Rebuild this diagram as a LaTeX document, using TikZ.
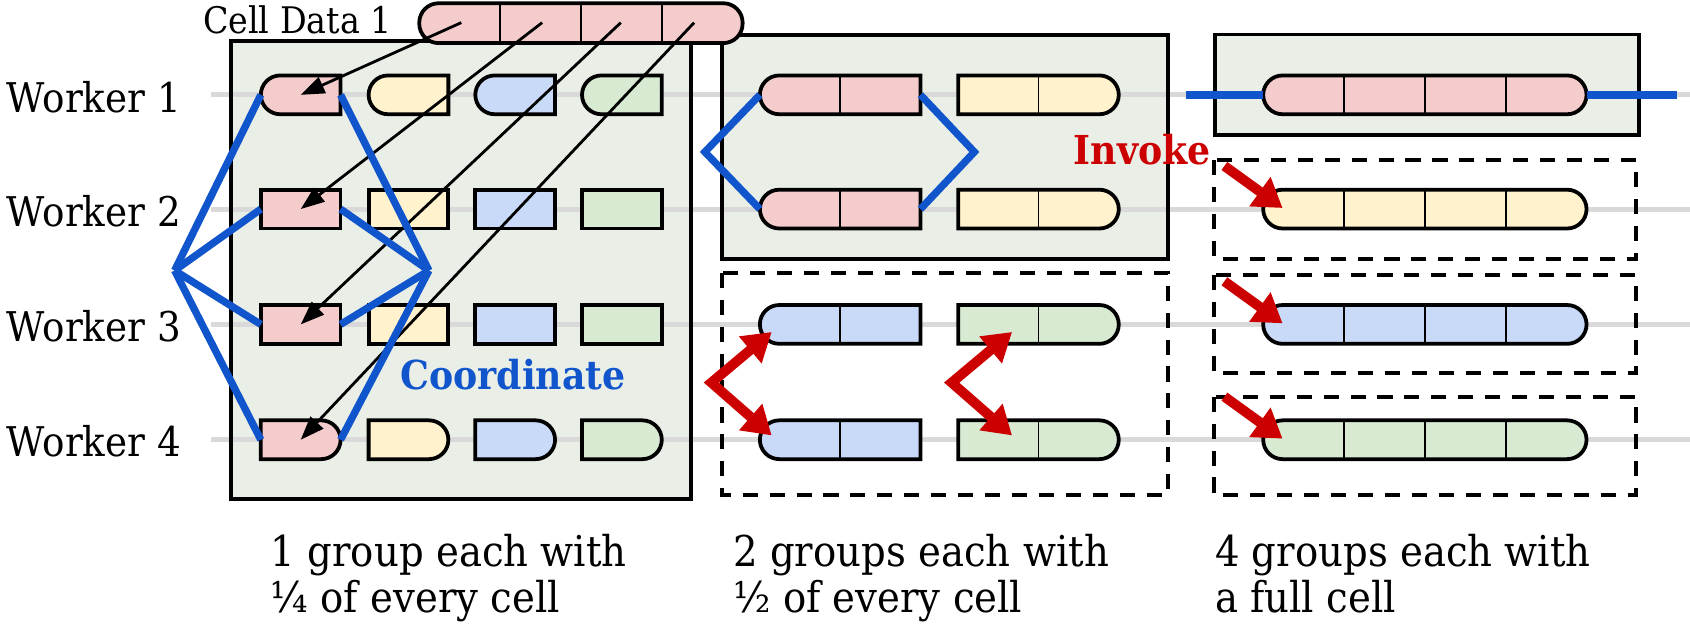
\documentclass[tikz,border=0pt]{standalone}
\usepackage{fontspec}
\setmainfont{DejaVu Serif}[FakeStretch=0.91]
\usetikzlibrary{arrows.meta,calc}
\definecolor{cpink}{HTML}{F4CCCC}
\definecolor{cyel}{HTML}{FFF2CC}
\definecolor{cblue}{HTML}{C9DAF8}
\definecolor{cgreen}{HTML}{D9EAD3}
\definecolor{panelfill}{HTML}{E9EEE6}
\definecolor{lineblue}{HTML}{1155CC}
\definecolor{arrred}{HTML}{CC0000}
\definecolor{rowgray}{HTML}{D9D9D9}
\tikzset{
 cellanchor/.style={inner sep=0pt, outer sep=0pt, minimum height=18pt},
 cellS/.style={cellanchor, minimum width=37pt},
 cellH/.style={cellanchor, minimum width=74.5pt},
 cellF/.style={cellanchor, minimum width=150pt},
 cellline/.style={draw=black, line width=1.75pt},
 divider/.style={draw=black, line width=0.8pt},
 rowline/.style={draw=rowgray, line width=2.3pt},
 panelbox/.style={draw=black, line width=1.75pt},
 dashbox/.style={draw=black, line width=1.75pt, dash pattern=on 7pt off 5.5pt},
 coordline/.style={draw=lineblue, line width=3.4pt},
 dataarrow/.style={draw=black, line width=1.3pt, -{Triangle[length=11pt,width=8pt]}},
 invarrow/.style={draw=arrred, line width=4.6pt, -{Triangle[length=13pt,width=16pt]}},
 exarrow/.style={draw=arrred, line width=4.6pt, {Triangle[length=13pt,width=15.5pt]}-{Triangle[length=13pt,width=15.5pt]}},
 wtext/.style={inner sep=0pt, anchor=base west, font=\fontsize{19pt}{22pt}\selectfont},
 cdtext/.style={inner sep=0pt, anchor=base west, font=\fontsize{17pt}{20pt}\selectfont},
 captext/.style={inner sep=0pt, anchor=base west, font=\fontsize{19.7pt}{23pt}\selectfont},
 bluetext/.style={inner sep=0pt, anchor=base, text=lineblue, font=\fontsize{18.5pt}{22pt}\selectfont\bfseries},
 redtext/.style={inner sep=0pt, anchor=base west, text=arrred, font=\fontsize{18.5pt}{22pt}\selectfont\bfseries},
}
\newcommand\mkpillL[2]{\draw[cellline,fill=#2] (#1.north east) -- ([xshift=9pt]#1.north west) arc[start angle=90,end angle=270,radius=9pt] -- (#1.south east) -- cycle;}
\newcommand\mkpillR[2]{\draw[cellline,fill=#2] (#1.north west) -- ([xshift=-9pt]#1.north east) arc[start angle=90,end angle=-90,radius=9pt] -- (#1.south west) -- cycle;}
\newcommand\mkpillB[2]{\draw[cellline,fill=#2,rounded corners=9pt] (#1.north west) rectangle (#1.south east);}
\newcommand\mkrect[2]{\draw[cellline,fill=#2] (#1.north west) rectangle (#1.south east);}
\newcommand\mkdivH[1]{\draw[divider] (#1.north) -- (#1.south);}
\newcommand\mkdivQ[1]{\foreach \q in {0.25,0.5,0.75}{\draw[divider] ($(#1.north west)!\q!(#1.north east)$) -- ($(#1.south west)!\q!(#1.south east)$);}}
\begin{document}
\begin{tikzpicture}[x=0.5pt,y=-0.5pt]
\useasboundingbox (0,0) rectangle (1568,583);
% panel corners
\coordinate (P1a) at (214,38);   \coordinate (P1b) at (641,463);
\coordinate (P2a) at (670,32.5); \coordinate (P2b) at (1084,240);
\coordinate (D2a) at (670,253);  \coordinate (D2b) at (1084,459);
\coordinate (P3a) at (1127,32);  \coordinate (P3b) at (1521,125);
\coordinate (D3a) at (1126,148.5); \coordinate (D3b) at (1518,240);
\coordinate (D4a) at (1126,255); \coordinate (D4b) at (1518,346);
\coordinate (D5a) at (1126,368); \coordinate (D5b) at (1518,459);
% fills
\fill[panelfill] (P1a) rectangle (P1b);
\fill[panelfill] (P2a) rectangle (P2b);
\fill[panelfill] (P3a) rectangle (P3b);
% worker row lines
\foreach \r/\y in {1/88,2/194,3/301,4/408}{
  \coordinate (gs\r) at (196,\y); \coordinate (ge\r) at (1568,\y);
  \draw[rowline] (gs\r) -- (ge\r);
}
% borders
\draw[panelbox] (P1a) rectangle (P1b);
\draw[panelbox] (P2a) rectangle (P2b);
\draw[panelbox] (P3a) rectangle (P3b);
\draw[dashbox] (D2a) rectangle (D2b);
\draw[dashbox] (D3a) rectangle (D3b);
\draw[dashbox] (D4a) rectangle (D4b);
\draw[dashbox] (D5a) rectangle (D5b);
% panel 1 cells
\foreach \c/\x in {1/279,2/379,3/478,4/577}{
  \node[cellS] (a1\c) at (\x,88) {};
  \node[cellS] (a2\c) at (\x,194) {};
  \node[cellS] (a3\c) at (\x,301) {};
  \node[cellS] (a4\c) at (\x,408) {};
}
\mkpillL{a11}{cpink}\mkpillL{a12}{cyel}\mkpillL{a13}{cblue}\mkpillL{a14}{cgreen}
\mkrect{a21}{cpink}\mkrect{a22}{cyel}\mkrect{a23}{cblue}\mkrect{a24}{cgreen}
\mkrect{a31}{cpink}\mkrect{a32}{cyel}\mkrect{a33}{cblue}\mkrect{a34}{cgreen}
\mkpillR{a41}{cpink}\mkpillR{a42}{cyel}\mkpillR{a43}{cblue}\mkpillR{a44}{cgreen}
% panel 2 cells
\foreach \r/\y in {1/88,2/194,3/301,4/408}{
  \node[cellH] (b\r l) at (779.5,\y) {};
  \node[cellH] (b\r r) at (963.5,\y) {};
}
\mkpillL{b1l}{cpink}\mkpillR{b1r}{cyel}
\mkpillL{b2l}{cpink}\mkpillR{b2r}{cyel}
\mkpillL{b3l}{cblue}\mkpillR{b3r}{cgreen}
\mkpillL{b4l}{cblue}\mkpillR{b4r}{cgreen}
\foreach \n in {b1l,b1r,b2l,b2r,b3l,b3r,b4l,b4r}{\mkdivH{\n}}
% panel 3 cells
\node[cellF] (f1) at (1322,88) {};
\node[cellF] (f2) at (1322,194) {};
\node[cellF] (f3) at (1322,301) {};
\node[cellF] (f4) at (1322,408) {};
\mkpillB{f1}{cpink}\mkpillB{f2}{cyel}\mkpillB{f3}{cblue}\mkpillB{f4}{cgreen}
\mkdivQ{f1}\mkdivQ{f2}\mkdivQ{f3}\mkdivQ{f4}
% cell data
\node[cellF, minimum height=18.5pt] (cd) at (539,21.5) {};
\mkpillB{cd}{cpink}\mkdivQ{cd}
% data arrows
\coordinate (s1) at (428,21); \coordinate (s2) at (503,21);
\coordinate (s3) at (576,21); \coordinate (s4) at (644,21);
\draw[dataarrow] (s1) -- (a11.center);
\draw[dataarrow] (s2) -- (a21.center);
\draw[dataarrow] (s3) -- (a31.center);
\draw[dataarrow] (s4) -- (a41.center);
% coordinate lines panel 1
\coordinate (hl) at (162,251); \coordinate (hr) at (398,251);
\foreach \r in {1,2,3,4}{
  \draw[coordline] (hl) -- (a\r1.west);
  \draw[coordline] (hr) -- (a\r1.east);
}
% panel 2
\coordinate (hl2) at (654,141); \coordinate (hr2) at (904,141);
\draw[coordline] (b1l.west) -- (hl2) -- (b2l.west);
\draw[coordline] (b1l.east) -- (hr2) -- (b2l.east);
% panel 3
\coordinate (fl) at (1100,88); \coordinate (fr) at (1556,88);
\draw[coordline] (fl) -- (f1.west);
\draw[coordline] (f1.east) -- (fr);
% exchange arrows
\coordinate (x1) at (660,355); \coordinate (x2) at (883,355);
\coordinate (t1) at (716,308); \coordinate (t2) at (716,404);
\coordinate (t3) at (939,308); \coordinate (t4) at (939,404);
\draw[exarrow] (t1) -- (x1) -- (t2);
\draw[exarrow] (t3) -- (x2) -- (t4);
% invoke arrows
\foreach \r/\y in {2/194,3/301,4/408}{
  \coordinate (iv\r) at (1136,\y-40);
  \coordinate (it\r) at (1190,\y-1);
  \draw[invarrow] (iv\r) -- (it\r);
}
% texts
\node[cdtext] (cdl) at (188,31) {Cell Data 1};
\node[wtext] (w1) at (6,104) {Worker 1};
\node[wtext] (w2) at (6,210) {Worker 2};
\node[wtext] (w3) at (6,317) {Worker 3};
\node[wtext] (w4) at (6,424) {Worker 4};
\node[bluetext] (coordlbl) at (476,361) {Coordinate};
\node[redtext] (invlbl) at (996,153) {Invoke};
\node[captext] (c1a) at (251,526) {1 group each with};
\node[captext] (c1b) at (251,568) {¼ of every cell};
\node[captext] (c2a) at (680,526) {2 groups each with};
\node[captext] (c2b) at (680,568) {½ of every cell};
\node[captext] (c3a) at (1127,526) {4 groups each with};
\node[captext] (c3b) at (1127,568) {a full cell};
\end{tikzpicture}
\end{document}
